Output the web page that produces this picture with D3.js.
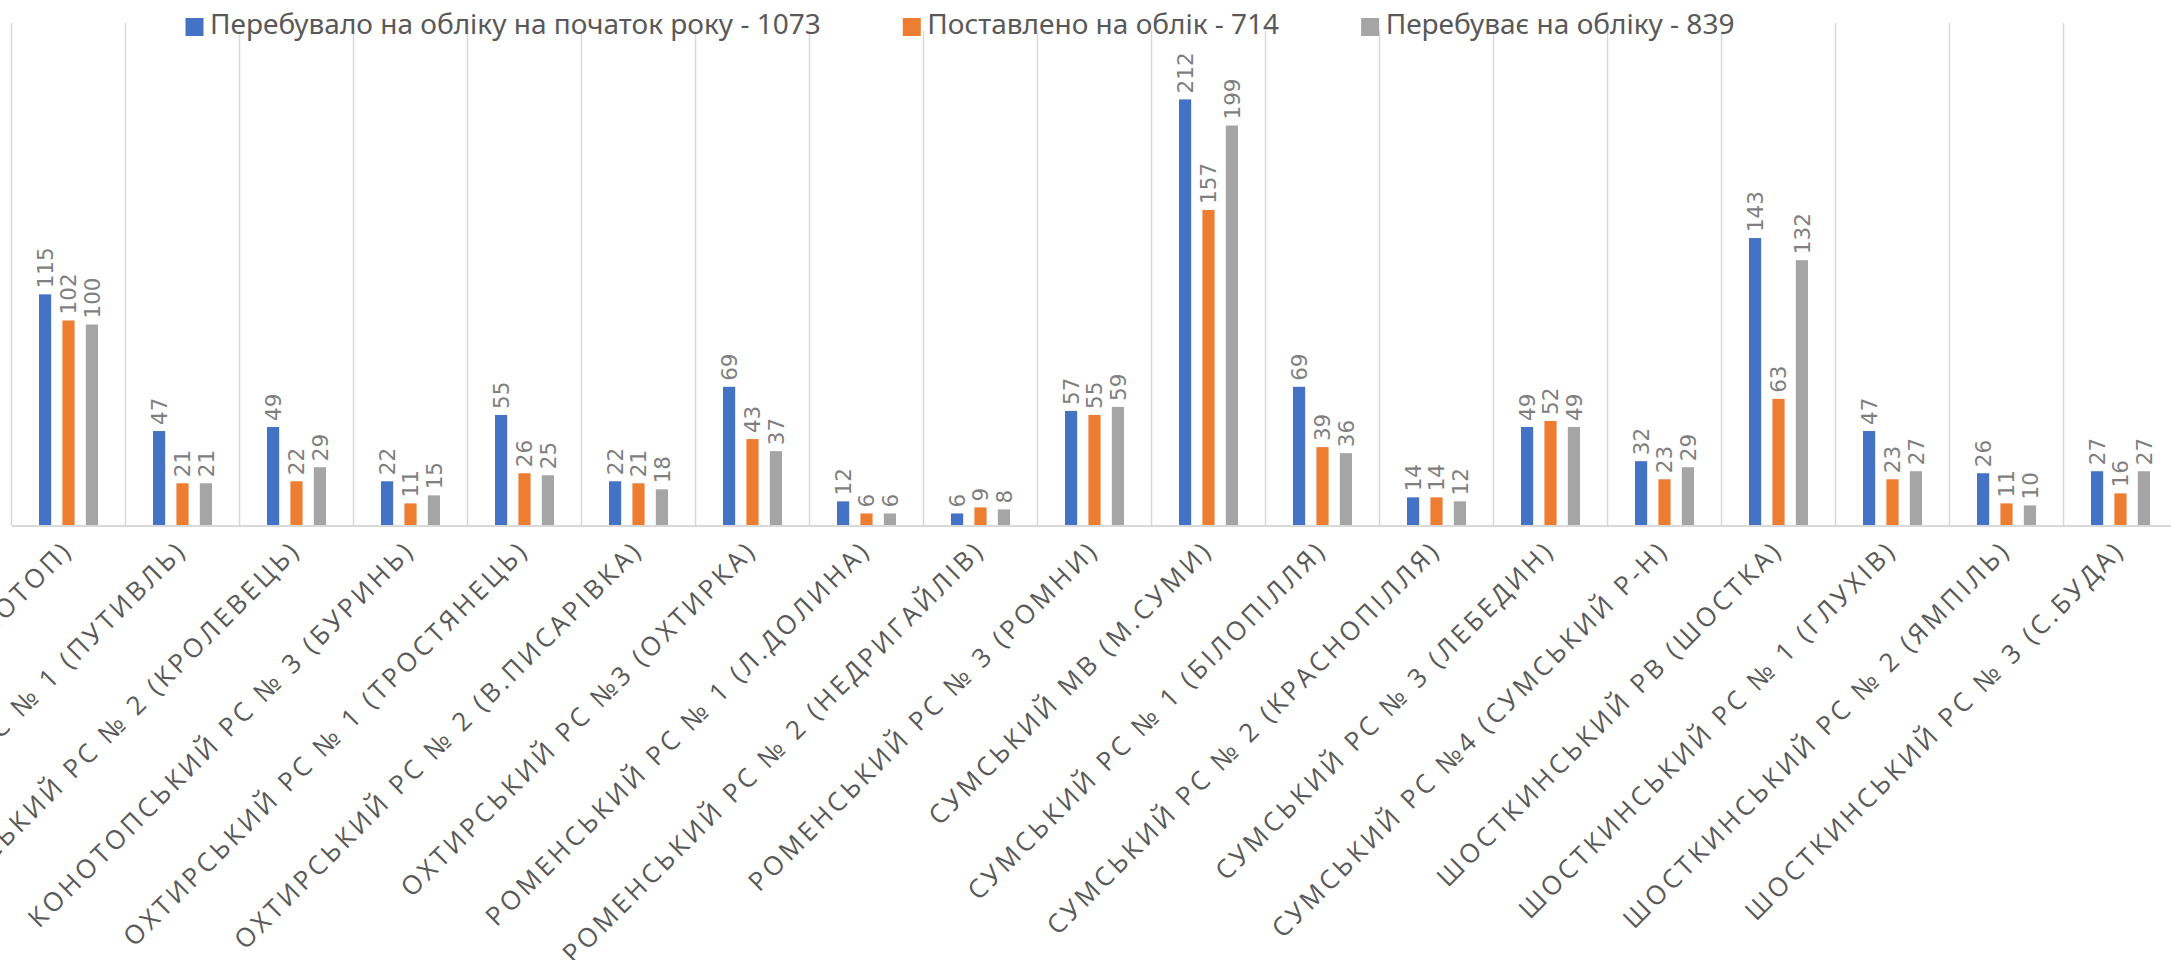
<!DOCTYPE html>
<html>
<head>
<meta charset="utf-8">
<script src="https://cdn.jsdelivr.net/npm/d3@7"></script>
<style>
    body { margin: 0; background: #fff; }
    svg { display: block; }
    .cat-label { font-family: 'Open Sans', sans-serif; font-size: 26px; letter-spacing: 3.5px; fill: #595959; }
    .value-label { font-family: 'DejaVu Sans', sans-serif; font-size: 21.5px; fill: #7f7f7f; }
    .legend-text { font-family: 'Noto Sans', sans-serif; font-size: 28px; fill: #595959; }
</style>
</head>
<body>
<div id="chart"></div>
<script>
// Categories (district offices)
const categories = [
    'КОНОТОПСЬКИЙ МВ (М.КОНОТОП)',
    'КОНОТОПСЬКИЙ РС № 1 (ПУТИВЛЬ)',
    'КОНОТОПСЬКИЙ РС № 2 (КРОЛЕВЕЦЬ)',
    'КОНОТОПСЬКИЙ РС № 3 (БУРИНЬ)',
    'ОХТИРСЬКИЙ РС № 1 (ТРОСТЯНЕЦЬ)',
    'ОХТИРСЬКИЙ РС № 2 (В.ПИСАРІВКА)',
    'ОХТИРСЬКИЙ РС №3 (ОХТИРКА)',
    'РОМЕНСЬКИЙ РС № 1 (Л.ДОЛИНА)',
    'РОМЕНСЬКИЙ РС № 2 (НЕДРИГАЙЛІВ)',
    'РОМЕНСЬКИЙ РС № 3 (РОМНИ)',
    'СУМСЬКИЙ МВ (М.СУМИ)',
    'СУМСЬКИЙ РС № 1 (БІЛОПІЛЛЯ)',
    'СУМСЬКИЙ РС № 2 (КРАСНОПІЛЛЯ)',
    'СУМСЬКИЙ РС № 3 (ЛЕБЕДИН)',
    'СУМСЬКИЙ РС №4 (СУМСЬКИЙ Р-Н)',
    'ШОСТКИНСЬКИЙ РВ (ШОСТКА)',
    'ШОСТКИНСЬКИЙ РС № 1 (ГЛУХІВ)',
    'ШОСТКИНСЬКИЙ РС № 2 (ЯМПІЛЬ)',
    'ШОСТКИНСЬКИЙ РС № 3 (С.БУДА)'
];

const seriesNames = [
    'Перебувало на обліку на початок року - 1073',
    'Поставлено на облік - 714',
    'Перебуває на обліку - 839'
];

const onRecordAtStart = [115, 47, 49, 22, 55, 22, 69, 12, 6, 57, 212, 69, 14, 49, 32, 143, 47, 26, 27];
const registered      = [102, 21, 22, 11, 26, 21, 43, 6, 9, 55, 157, 39, 14, 52, 23, 63, 23, 11, 16];
const onRecordNow     = [100, 21, 29, 15, 25, 18, 37, 6, 8, 59, 199, 36, 12, 49, 29, 132, 27, 10, 27];

const seriesColors = ['#4472C4', '#ED7D31', '#A5A5A5'];
const valueDomain = [0, 250];

class GroupedBarChart {
    constructor(_config) {
        this.config = {
            parentElement: _config.parentElement,
            containerWidth: _config.containerWidth || 2171,
            containerHeight: _config.containerHeight || 960,
            plotLeft: 11.5,
            bandStep: 114,
            plotTop: 23,
            plotBottom: 525.5,
            legendX: 185.5
        };
        this.series = [onRecordAtStart, registered, onRecordNow];
        this.initVis();
    }

    initVis() {
        let vis = this;
        const c = vis.config;

        vis.svg = d3.select(c.parentElement)
            .append('svg')
            .attr('width', c.containerWidth)
            .attr('height', c.containerHeight);

        vis.svg.append('rect')
            .attr('width', c.containerWidth)
            .attr('height', c.containerHeight)
            .attr('fill', '#fff');

        vis.xScale = d3.scaleBand()
            .domain(categories)
            .range([c.plotLeft, c.plotLeft + c.bandStep * categories.length]);

        // bars inside one category
        vis.xInner = d3.scaleBand()
            .domain(d3.range(seriesNames.length))
            .range([0, vis.xScale.bandwidth()])
            .paddingInner(0.48)
            .paddingOuter(1.175);

        vis.yScale = d3.scaleLinear()
            .domain(valueDomain)
            .range([c.plotBottom, c.plotTop]);

        vis.gridG = vis.svg.append('g').attr('class', 'grid');
        vis.barsG = vis.svg.append('g').attr('class', 'bars');

        vis.xAxis = d3.axisBottom(vis.xScale)
            .tickSize(0)
            .tickSizeOuter(0);

        vis.xAxisG = vis.svg.append('g')
            .attr('class', 'axis x-axis')
            .attr('transform', `translate(0,${c.plotBottom})`);

        vis.legend = vis.svg.append('g').attr('class', 'legend');

        vis.renderVis();
    }

    renderVis() {
        let vis = this;
        const c = vis.config;

        // vertical gridlines between categories
        const bounds = categories.map(d => vis.xScale(d)).concat([vis.xScale.range()[1]]);
        vis.gridG.selectAll('line')
            .data(bounds)
            .join('line')
            .attr('x1', d => d)
            .attr('x2', d => d)
            .attr('y1', vis.yScale(valueDomain[1]))
            .attr('y2', vis.yScale(0))
            .attr('stroke', '#d9d9d9')
            .attr('stroke-width', 1.5);

        const groups = vis.barsG.selectAll('.cat')
            .data(categories)
            .join('g')
            .attr('class', 'cat')
            .attr('transform', d => `translate(${vis.xScale(d)},0)`);

        const cells = groups.selectAll('.cell')
            .data((d, i) => vis.series.map((s, k) => ({ k: k, value: s[i] })))
            .join('g')
            .attr('class', 'cell');

        cells.append('rect')
            .attr('x', d => vis.xInner(d.k))
            .attr('width', vis.xInner.bandwidth())
            .attr('y', d => vis.yScale(d.value))
            .attr('height', d => vis.yScale(0) - vis.yScale(d.value))
            .attr('fill', d => seriesColors[d.k]);

        cells.append('text')
            .attr('class', 'value-label')
            .attr('transform', d => `translate(${vis.xInner(d.k) + vis.xInner.bandwidth() / 2},${vis.yScale(d.value) - 6}) rotate(-90)`)
            .attr('dy', '0.36em')
            .text(d => d.value);

        vis.xAxisG.call(vis.xAxis);
        vis.xAxisG.select('.domain')
            .attr('stroke', '#d9d9d9')
            .attr('stroke-width', 2);
        vis.xAxisG.selectAll('.tick text')
            .attr('class', 'cat-label')
            .attr('x', 0)
            .attr('y', 0)
            .attr('dy', 0)
            .attr('transform', 'translate(6,26) rotate(-45)')
            .style('text-anchor', 'end')
            .attr('font-family', null)
            .attr('font-size', null)
            .attr('fill', null);

        // legend: square + label, laid out left to right
        vis.legend.append('rect')
            .attr('x', c.legendX - 6)
            .attr('y', 0)
            .attr('width', 1562)
            .attr('height', 31)
            .attr('fill', '#fff');

        let xPos = c.legendX;
        seriesNames.forEach((name, k) => {
            vis.legend.append('rect')
                .attr('x', xPos)
                .attr('y', 18)
                .attr('width', 18)
                .attr('height', 18)
                .attr('fill', seriesColors[k]);
            const t = vis.legend.append('text')
                .attr('class', 'legend-text')
                .attr('x', xPos + 24.5)
                .attr('y', 34)
                .text(name);
            xPos += 24.5 + t.node().getComputedTextLength() + 82;
        });
    }
}

new GroupedBarChart({ parentElement: '#chart' });
</script>
</body>
</html>
